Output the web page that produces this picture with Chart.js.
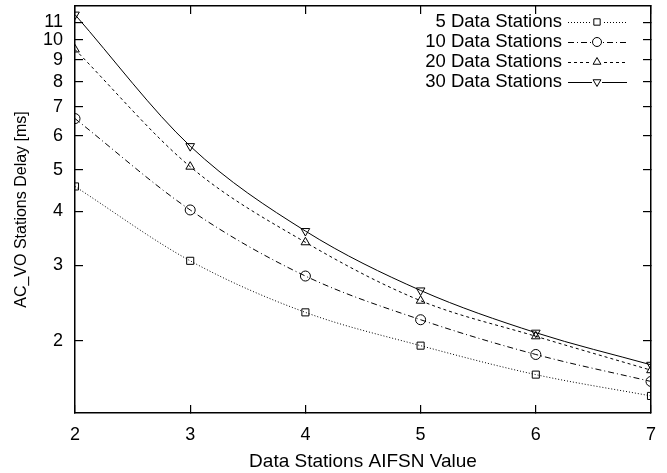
<!DOCTYPE html>
<html>
<head>
<meta charset="utf-8">
<script src="https://cdn.jsdelivr.net/npm/chart.js@4/dist/chart.umd.min.js"></script>
<style>
  body { margin: 0; background: #fff; }
  #wrap { width: 667px; height: 473px; }
</style>
</head>
<body>
<div id="wrap"><canvas id="chart" width="667" height="473"></canvas></div>
<script>
const aifsn = [2, 3, 4, 5, 6, 7];
const delay5 = [4.57, 3.07, 2.33, 1.95, 1.67, 1.49];
const delay10 = [6.57, 4.03, 2.83, 2.24, 1.86, 1.61];
const delay20 = [9.51, 5.08, 3.39, 2.48, 2.05, 1.71];
const delay30 = [11.46, 5.67, 3.60, 2.62, 2.09, 1.76];
const seriesNames = ['5 Data Stations', '10 Data Stations', '20 Data Stations', '30 Data Stations'];
const yTicks = [2, 3, 4, 5, 6, 7, 8, 9, 10, 11];
const xTicks = [2, 3, 4, 5, 6, 7];

const FONT = '"Liberation Sans", Arial, Helvetica, sans-serif';

function pts(ys) {
  return aifsn.map((x, i) => ({ x: x, y: ys[i] }));
}

function ds(label, ys, dash, marker, rot) {
  return {
    label: label,
    data: pts(ys),
    borderColor: '#000',
    borderWidth: 1,
    borderDash: dash,
    pointStyle: marker,
    pointRotation: rot,
    pointRadius: 5,
    pointBorderWidth: 1,
    pointBorderColor: '#000',
    pointBackgroundColor: 'rgba(0,0,0,0)',
    cubicInterpolationMode: 'monotone',
    fill: false
  };
}

// inward ticks (negative length) and a full frame, like gnuplot
const tickGrid = { drawOnChartArea: false, drawTicks: true, tickLength: -8, color: '#000', lineWidth: 1.2 };
const frameBorder = { display: true, color: '#000', width: 1.5 };

// key at top right: label, then line sample with the marker
const keyPlugin = {
  id: 'key',
  afterDraw(chart) {
    const ctx = chart.ctx;
    ctx.save();
    ctx.font = '18.5px ' + FONT;
    ctx.textAlign = 'right';
    ctx.textBaseline = 'middle';
    ctx.strokeStyle = 'black';
    const textRight = 562, sx0 = 568, sx1 = 627, mx = 597;
    chart.data.datasets.forEach((d, i) => {
      const y = 22 + i * 20;
      ctx.fillStyle = 'black';
      ctx.fillText(d.label, textRight, y);
      ctx.lineWidth = 1;
      ctx.setLineDash(d.borderDash || []);
      ctx.beginPath();
      ctx.moveTo(sx0, y + 0.5); ctx.lineTo(sx1, y + 0.5);
      ctx.stroke();
      ctx.setLineDash([]);
      ctx.fillStyle = 'white';
      ctx.fillRect(mx - 5, y - 5, 10, 10);
      ctx.fillStyle = 'rgba(0,0,0,0)';
      Chart.helpers.drawPoint(ctx, {
        pointStyle: d.pointStyle, rotation: d.pointRotation || 0,
        radius: 4.5, borderWidth: 1
      }, mx, y);
    });
    ctx.restore();
  }
};

new Chart(document.getElementById('chart'), {
  type: 'line',
  data: {
    datasets: [
      ds(seriesNames[0], delay5, [1, 2], 'rect', 0),
      ds(seriesNames[1], delay10, [6, 3, 1, 3], 'circle', 0),
      ds(seriesNames[2], delay20, [3, 3], 'triangle', 0),
      ds(seriesNames[3], delay30, [], 'triangle', 180)
    ]
  },
  options: {
    responsive: false,
    animation: false,
    layout: { padding: { top: 5, right: 16, left: 0, bottom: 0 } },
    plugins: {
      legend: { display: false },
      tooltip: { enabled: false }
    },
    scales: {
      x: {
        type: 'linear',
        position: 'bottom',
        min: 2,
        max: 7,
        afterBuildTicks(s) { s.ticks = xTicks.map(v => ({ value: v })); },
        afterFit(s) { s.height = 60; s.paddingLeft = 0; s.paddingRight = 0; },
        grid: tickGrid,
        border: frameBorder,
        ticks: { color: '#000', padding: 19, font: { family: FONT, size: 18 } },
        title: {
          display: true, text: 'Data Stations AIFSN Value', color: '#000',
          font: { family: FONT, size: 19 }, padding: { top: 2, bottom: 0 }
        }
      },
      x2: {
        type: 'linear',
        position: 'top',
        min: 2,
        max: 7,
        afterBuildTicks(s) { s.ticks = xTicks.map(v => ({ value: v })); },
        afterFit(s) { s.height = 0; s.paddingLeft = 0; s.paddingRight = 0; },
        grid: tickGrid,
        border: frameBorder,
        ticks: { display: false }
      },
      y: {
        type: 'logarithmic',
        position: 'left',
        min: 1.36,
        max: 12,
        afterBuildTicks(s) { s.ticks = yTicks.map(v => ({ value: v })); },
        afterFit(s) { s.width = 75; s.paddingTop = 0; s.paddingBottom = 0; },
        grid: tickGrid,
        border: frameBorder,
        ticks: {
          color: '#000', padding: 20, font: { family: FONT, size: 18 },
          callback: v => String(v)
        },
        title: {
          display: true, text: 'AC_VO Stations Delay [ms]', color: '#000',
          font: { family: FONT, size: 16 }, padding: { top: 12, bottom: 4 }
        }
      },
      y2: {
        type: 'logarithmic',
        position: 'right',
        min: 1.36,
        max: 12,
        afterBuildTicks(s) { s.ticks = yTicks.map(v => ({ value: v })); },
        afterFit(s) { s.width = 0; s.paddingTop = 0; s.paddingBottom = 0; },
        grid: tickGrid,
        border: frameBorder,
        ticks: { display: false }
      }
    }
  },
  plugins: [keyPlugin]
});
</script>
</body>
</html>
